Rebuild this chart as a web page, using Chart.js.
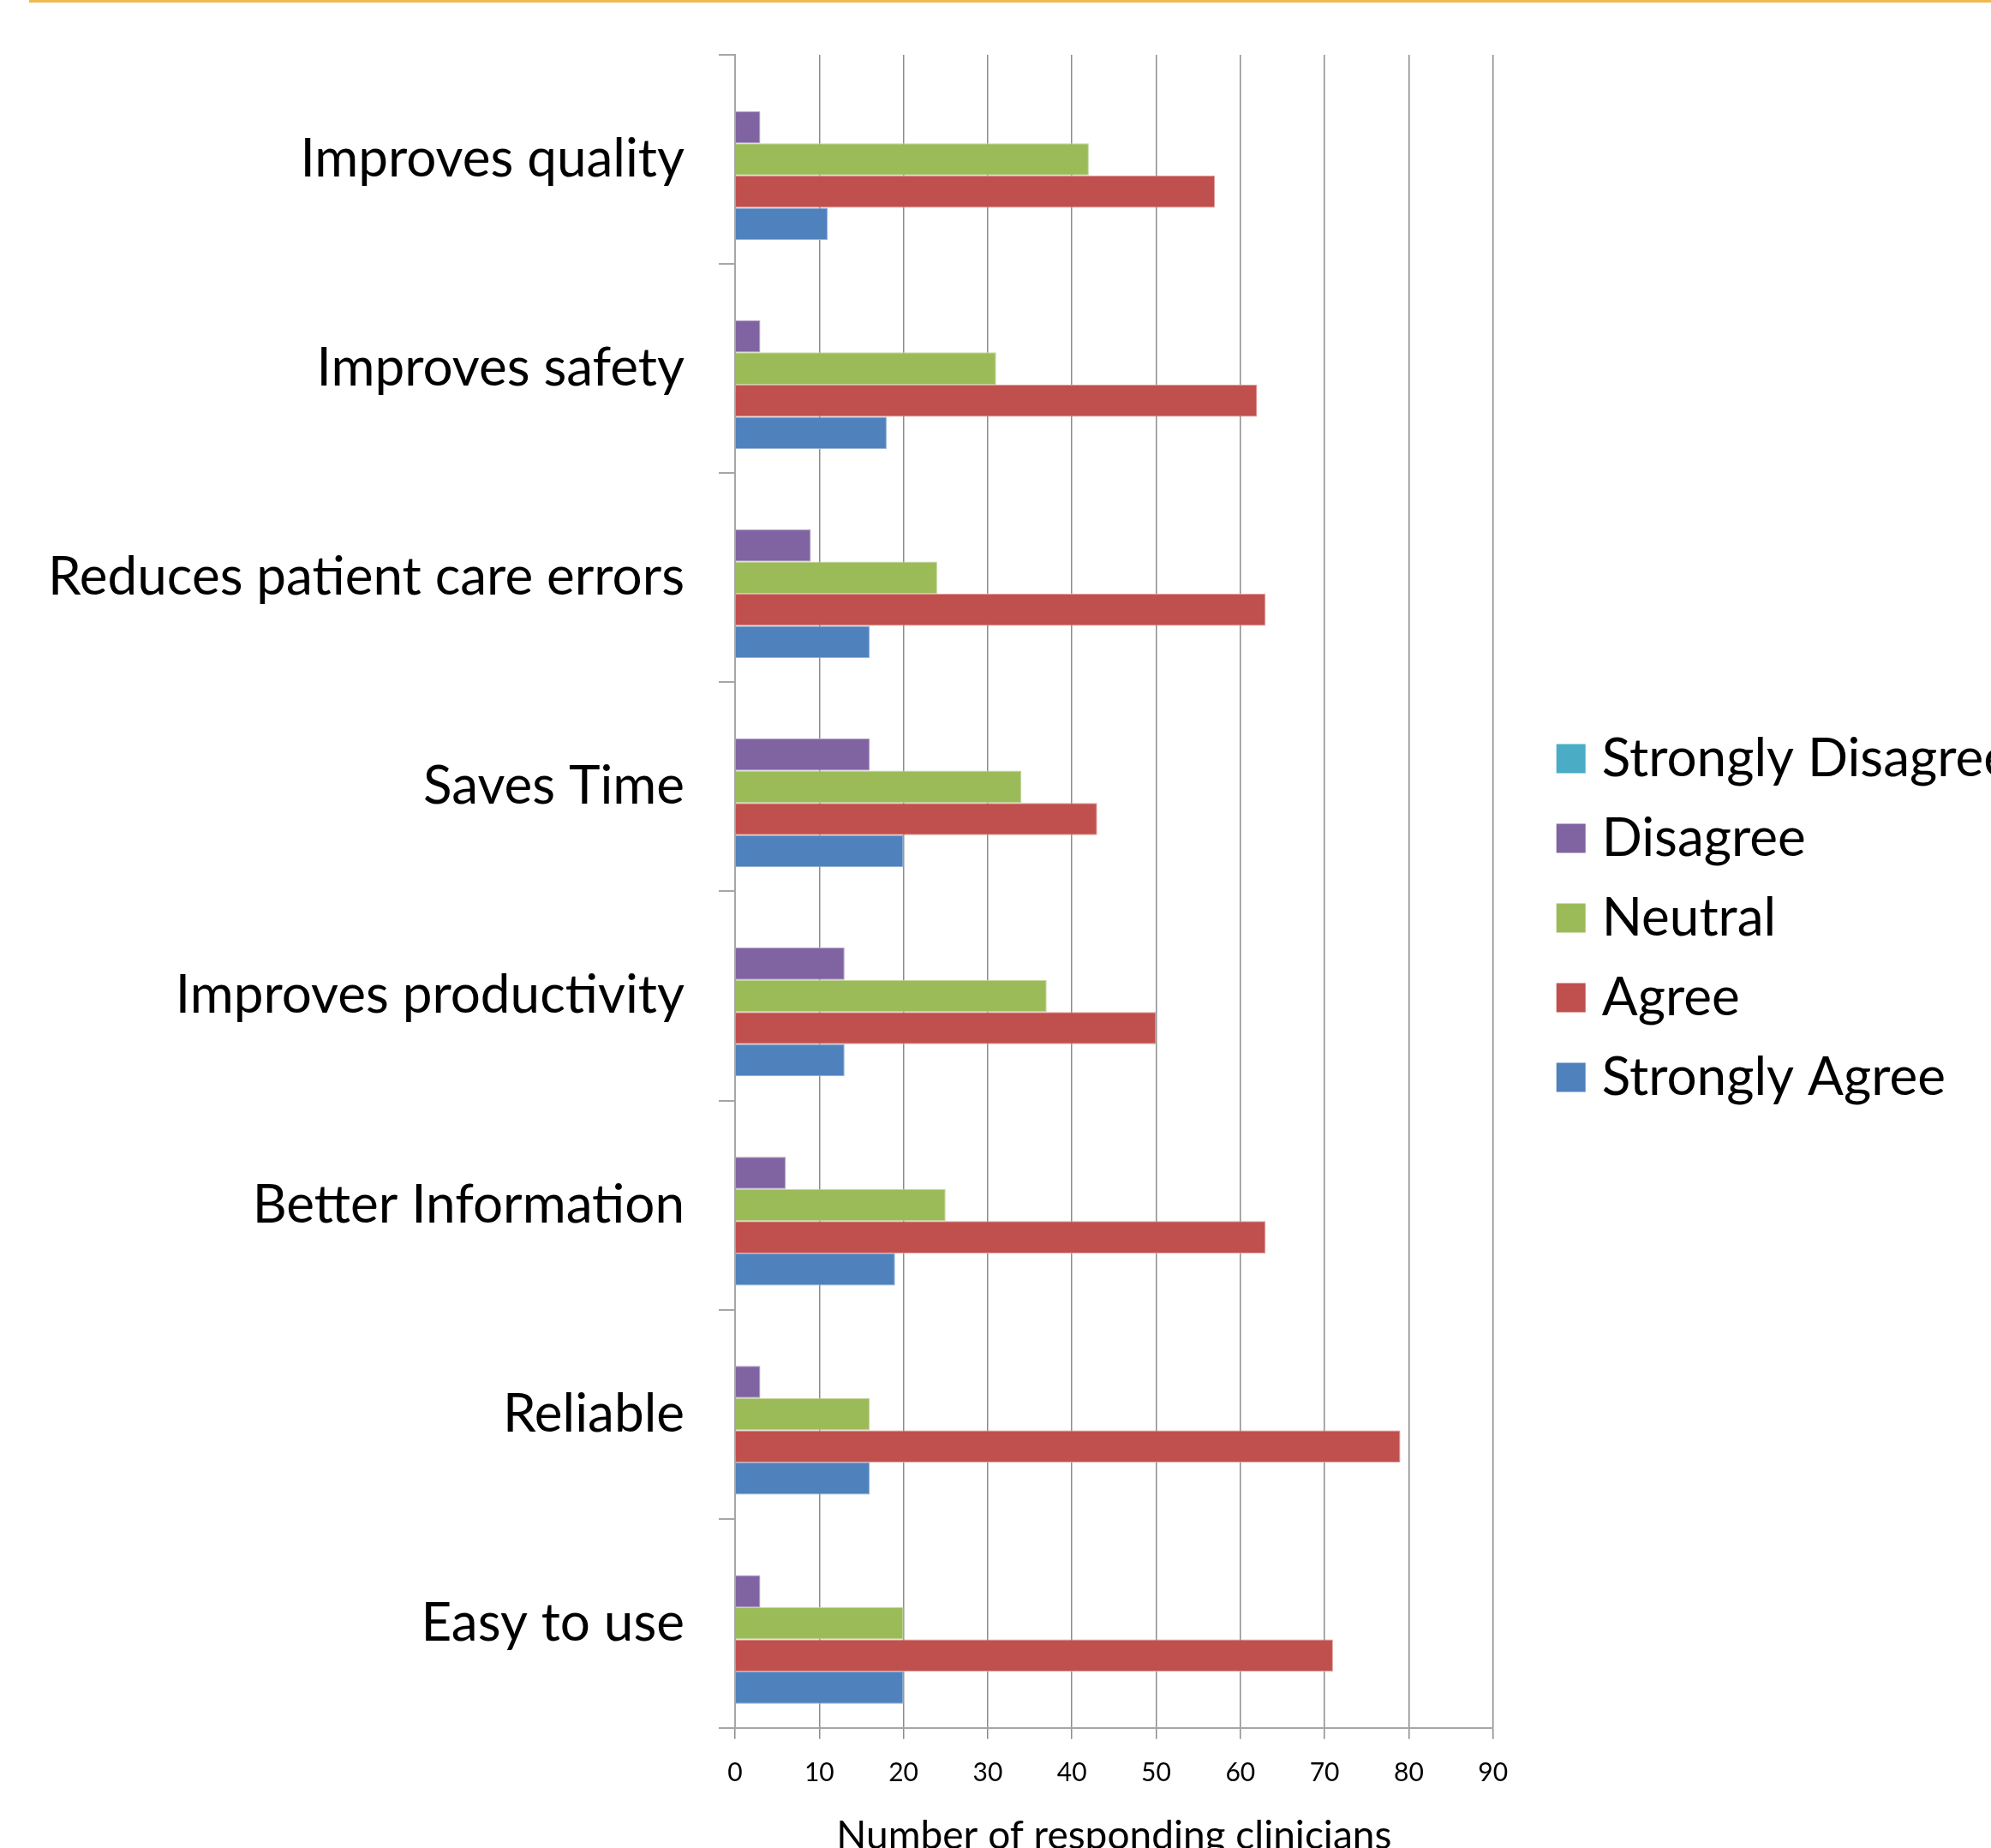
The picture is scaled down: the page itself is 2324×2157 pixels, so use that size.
<!DOCTYPE html>
<html>
<head>
<meta charset="utf-8">
<script src="https://cdn.jsdelivr.net/npm/chart.js@4.4.0/dist/chart.umd.min.js"></script>
<style>
  html, body { margin: 0; padding: 0; background: #ffffff; overflow: hidden; width: 2324px; height: 2157px; }
  #wrap { position: absolute; left: 0; top: 0; width: 2400px; height: 2200px; }
  #topline { position: absolute; left: 34px; top: 0; width: 2290px; height: 3px; background: #F0B94F; }
</style>
</head>
<body>
<div id="wrap"><canvas id="c"></canvas></div>
<div id="topline"></div>
<script>
const categories = [
  "Improves quality",
  "Improves safety",
  "Reduces patient care errors",
  "Saves Time",
  "Improves productivity",
  "Better Information",
  "Reliable",
  "Easy to use"
];
const seriesNames = ["Strongly Disagree", "Disagree", "Neutral", "Agree", "Strongly Agree"];
const stronglyDisagree = [0, 0, 0, 0, 0, 0, 0, 0];
const disagree        = [3, 3, 9, 16, 13, 6, 3, 3];
const neutral         = [42, 31, 24, 34, 37, 25, 16, 20];
const agree           = [57, 62, 63, 43, 50, 63, 79, 71];
const stronglyAgree   = [11, 18, 16, 20, 13, 19, 16, 20];
const seriesColors = ["#4BACC6", "#8064A2", "#9BBB59", "#C0504D", "#4F81BD"];
const seriesEdgeColors = ["#93cfdf", "#b3a2c7", "#c3d69b", "#e0a09e", "#95b3d7"];
const xTicks = [0, 10, 20, 30, 40, 50, 60, 70, 80, 90];
const axisTitle = "Number of responding clinicians";

const seriesValues = [stronglyDisagree, disagree, neutral, agree, stronglyAgree];
const datasets = seriesNames.map((name, i) => ({
  label: name,
  data: seriesValues[i],
  backgroundColor: seriesColors[i],
  borderColor: seriesEdgeColors[i],
  borderWidth: 1,
  categoryPercentage: 5 / 6.5,
  barPercentage: 1.0
}));

// place the legend block like the original (right of plot, vertically centred)
const legendShift = {
  id: 'legendShift',
  afterLayout(chart) {
    const lg = chart.legend;
    if (!lg) return;
    const dx = 55, dy = -46;
    lg.left += dx; lg.right += dx;
    lg.top += dy; lg.bottom += dy;
  }
};

new Chart(document.getElementById('c'), {
  type: 'bar',
  data: { labels: categories, datasets: datasets },
  plugins: [legendShift],
  options: {
    indexAxis: 'y',
    responsive: true,
    maintainAspectRatio: false,
    animation: false,
    layout: { padding: { left: 0, top: 64, right: 97, bottom: 29 } },
    plugins: {
      legend: {
        position: 'right',
        align: 'center',
        maxWidth: 800,
        labels: {
          font: { family: 'Lato', size: 62 },
          color: '#000000',
          boxWidth: 10,
          boxHeight: 10,
          padding: 31,
          generateLabels(chart) {
            const items = Chart.defaults.plugins.legend.labels.generateLabels(chart);
            items.forEach((it, i) => {
              it.fillStyle = seriesColors[i];
              it.strokeStyle = seriesColors[i];
              it.lineWidth = 24;
              it.lineJoin = 'miter';
            });
            return items;
          }
        }
      },
      tooltip: { enabled: false }
    },
    scales: {
      x: {
        min: 0,
        max: 90,
        afterBuildTicks(scale) { scale.ticks = xTicks.map(v => ({ value: v })); },
        ticks: {
          font: { family: 'Lato', size: 30 },
          color: '#000000',
          padding: 22
        },
        grid: {
          color: '#8c8c8c',
          lineWidth: 1.5,
          tickLength: 13,
          drawTicks: true
        },
        border: { display: true, color: '#a6a6a6', width: 2 },
        title: {
          display: true,
          text: axisTitle,
          font: { family: 'Lato', size: 46 },
          color: '#000000',
          padding: { top: 6, bottom: 0 }
        }
      },
      y: {
        afterFit(scale) {
          scale.width = 858;
          scale.paddingTop = 0;
          scale.paddingBottom = 0;
        },
        ticks: {
          font: { family: 'Lato', size: 62 },
          color: '#000000',
          padding: 40
        },
        grid: {
          offset: true,
          drawOnChartArea: false,
          color: '#a6a6a6',
          lineWidth: 2,
          tickLength: 19
        },
        border: { display: true, color: '#a6a6a6', width: 2 }
      }
    }
  }
});
</script>
</body>
</html>
